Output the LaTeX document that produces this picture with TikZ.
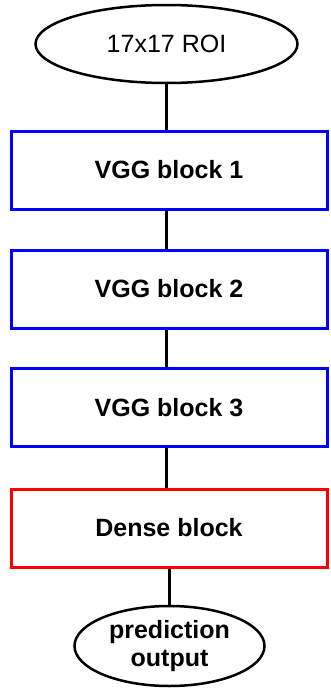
\documentclass[tikz,border=0pt]{standalone}
\usepackage{fontspec}
\setmainfont{Liberation Sans}
\usetikzlibrary{shapes.geometric}
\begin{document}
\begin{tikzpicture}[x=1pt,y=-1pt,
  blockbox/.style={draw=blue, line width=3pt, minimum width=316pt, minimum height=78pt,
    inner sep=0pt, font=\fontsize{25}{28}\selectfont\bfseries},
  densebox/.style={blockbox, draw=red},
  terminal/.style={ellipse, draw=black, line width=2.5pt, inner sep=0pt, align=center},
  link/.style={line width=2.8pt}]
\useasboundingbox (0,0) rectangle (330,688);
\node[terminal, minimum width=262pt, minimum height=78pt,
  font=\fontsize{25}{28}\selectfont] (roi) at (166.5,44) {17x17 ROI};
\node[blockbox] (vgg1) at (169,170) {VGG block 1};
\node[blockbox] (vgg2) at (169,289) {VGG block 2};
\node[blockbox] (vgg3) at (169,407.5) {VGG block 3};
\node[densebox] (dense) at (169,528) {Dense block};
\node[terminal, minimum width=190pt, minimum height=80pt,
  font=\fontsize{25}{28}\selectfont\bfseries] (out) at (169.5,646) {prediction\\output};
\draw[link] (roi.south) -- (roi.south |- vgg1.north);
\draw[link] (vgg1.south -| roi.south) -- (vgg2.north -| roi.south);
\draw[link] (vgg2.south -| roi.south) -- (vgg3.north -| roi.south);
\draw[link] (vgg3.south -| roi.south) -- (dense.north -| roi.south);
\draw[link] (dense.south -| out.north) -- (out.north);
\end{tikzpicture}
\end{document}
